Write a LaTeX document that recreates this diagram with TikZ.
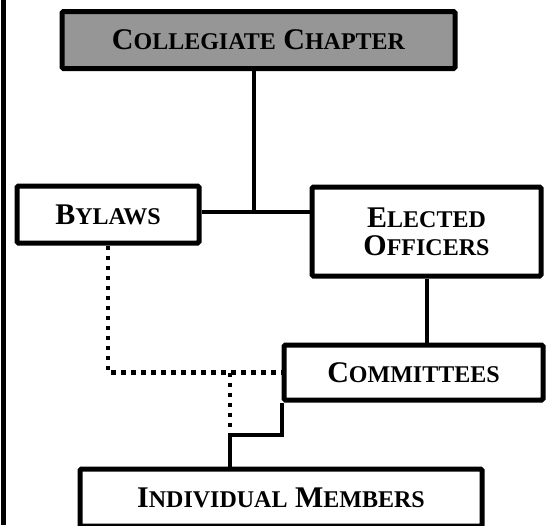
\documentclass[tikz,border=0pt]{standalone}
\usepackage{fontspec}
\setmainfont{Liberation Serif}
\usetikzlibrary{calc}
\definecolor{chapgray}{RGB}{150,150,150}
\newcommand{\smc}[1]{{\fontsize{24}{24}\selectfont #1}}
\tikzset{
org node/.style={draw,line width=5pt,rounded corners=1.5pt,inner sep=0pt,fill=white,
  font=\fontsize{30}{28}\selectfont\bfseries,align=center},
link/.style={line width=4pt},
dotlink/.style={line width=4.5pt,dash pattern=on 4.5pt off 5.5pt}}

\begin{document}
\begin{tikzpicture}[x=1pt,y=-1pt]
      \useasboundingbox (0,0) rectangle (551,525);
      \draw[line width=5pt] (3.5,0) -- (3.5,525);

      \node[org node,fill=chapgray,minimum width=393pt,minimum height=57pt] (chap) at (258.5,40) {C\smc{OLLEGIATE} C\smc{HAPTER}};
      \node[org node,minimum width=182pt,minimum height=57pt] (byl) at (108,214.5) {B\smc{YLAWS}};
      \node[org node,minimum width=229pt,minimum height=89pt] (off) at (426.5,231.5) {E\smc{LECTED}\\O\smc{FFICERS}};
      \node[org node,minimum width=259pt,minimum height=55pt] (com) at (413.5,372.5) {C\smc{OMMITTEES}};
      \node[org node,minimum width=402pt,minimum height=57pt] (mem) at (281,497.5) {I\smc{NDIVIDUAL} M\smc{EMBERS}};

      \coordinate (j1) at (254,212);
      \coordinate (j2) at (230,435);

      \draw[link] (chap.south -| j1) -- (j1);
      \draw[link] (j1 -| byl.east) -- (j1 -| off.west);
      \draw[link] (off.south) -- (off.south |- com.north);
      \draw[dotlink] (byl.south) |- (com.west);
      \draw[dotlink] (j2 |- com.west) -- ($(j2)+(0,-5)$);
      \draw[link] (com.south west) -- (com.south west |- j2) -- (j2) -- (j2 |- mem.north);
\end{tikzpicture}
\end{document}
